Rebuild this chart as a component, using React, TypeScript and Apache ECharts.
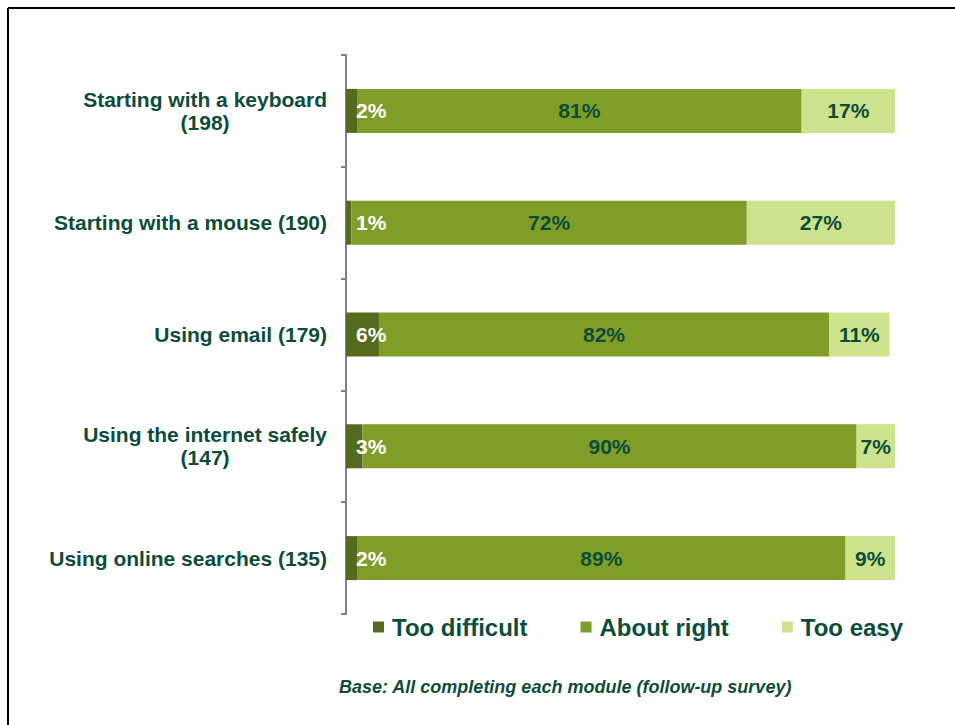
import React, { useEffect, useRef } from "react";
import * as echarts from "echarts";

const categories = [
  "Starting with a keyboard\n(198)",
  "Starting with a mouse (190)",
  "Using email (179)",
  "Using the internet safely\n(147)",
  "Using online searches (135)",
];
const tooDifficult = [2, 1, 6, 3, 2];
const aboutRight = [81, 72, 82, 90, 89];
const tooEasy = [17, 27, 11, 7, 9];
const seriesNames = ["Too difficult", "About right", "Too easy"];
const footnote = "Base: All completing each module (follow-up survey)";

const TEXT = "#0b4d3b";
const FONT = "Arial, 'Liberation Sans', sans-serif";

export default function App() {
  const ref = useRef<HTMLDivElement>(null);
  useEffect(() => {
    document.body.style.margin = "0";
    const chart = echarts.init(ref.current!, null, { renderer: "svg" });
    const labelBase = {
      show: true,
      fontFamily: FONT,
      fontWeight: "bold" as const,
      fontSize: 21,
      formatter: "{c}%",
    };
    chart.setOption({
      animation: false,
      backgroundColor: "#ffffff",
      grid: { left: 346, right: 60, top: 55, bottom: 111, containLabel: false },
      xAxis: { type: "value", min: 0, max: 100, show: false },
      yAxis: {
        type: "category",
        data: categories,
        inverse: true,
        axisLine: { show: true, lineStyle: { color: "#7a8485", width: 2 } },
        axisTick: { show: true, length: 5, lineStyle: { color: "#7a8485", width: 2 } },
        splitLine: { show: false },
        axisLabel: {
          margin: 19,
          color: TEXT,
          fontFamily: FONT,
          fontWeight: "bold",
          fontSize: 21,
          lineHeight: 23,
          formatter: (v: string) => v.split("\n").map((l) => `{c|${l}}`).join("\n"),
          rich: {
            c: {
              align: "center",
              color: TEXT,
              fontFamily: FONT,
              fontWeight: "bold",
              fontSize: 21,
              lineHeight: 23,
            },
          },
        },
      },
      legend: {
        data: seriesNames,
        left: 373,
        top: 615,
        padding: 0,
        icon: "rect",
        itemWidth: 11,
        itemHeight: 11,
        itemGap: 53,
        textStyle: {
          color: TEXT,
          fontFamily: FONT,
          fontWeight: "bold",
          fontSize: 24,
          padding: [0, 0, 0, 3],
        },
      },
      graphic: [
        { type: "line", shape: { x1: 8, y1: 8, x2: 955, y2: 8 }, style: { stroke: "#000", lineWidth: 2 } },
        { type: "line", shape: { x1: 8, y1: 8, x2: 8, y2: 725 }, style: { stroke: "#000", lineWidth: 2 } },
        {
          type: "text",
          left: 339,
          top: 678,
          style: {
            text: footnote,
            fill: TEXT,
            font: `italic bold 18px ${FONT}`,
          },
        },
      ],
      series: [
        {
          name: seriesNames[0],
          type: "bar",
          stack: "total",
          data: tooDifficult,
          barWidth: 44,
          itemStyle: { color: "#546a1c" },
          label: { ...labelBase, position: "insideLeft", distance: 10, color: "#ffffff" },
        },
        {
          name: seriesNames[1],
          type: "bar",
          stack: "total",
          data: aboutRight,
          barWidth: 44,
          itemStyle: { color: "#809d28" },
          label: { ...labelBase, position: "inside", color: TEXT },
        },
        {
          name: seriesNames[2],
          type: "bar",
          stack: "total",
          data: tooEasy,
          barWidth: 44,
          itemStyle: { color: "#cce28b" },
          label: { ...labelBase, position: "inside", color: TEXT },
        },
      ],
    });
    return () => chart.dispose();
  }, []);
  return (
    <div
      ref={ref}
      style={{ position: "absolute", left: 0, top: 0, width: 955, height: 725 }}
    />
  );
}
